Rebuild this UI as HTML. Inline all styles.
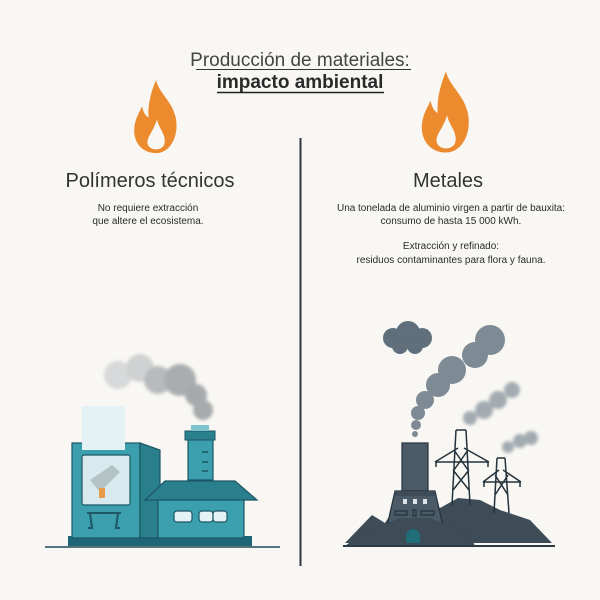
<!DOCTYPE html>
<html><head><meta charset="utf-8"><style>
html,body{margin:0;padding:0;background:#f8f7f3}
svg{display:block}
text{font-family:"Liberation Sans",sans-serif;fill:#2a2a2a}
</style></head><body>
<svg width="600" height="600" viewBox="0 0 600 600" xmlns="http://www.w3.org/2000/svg">
<rect width="600" height="600" fill="#f8f7f3"/>
<defs>
<filter id="b"><feGaussianBlur stdDeviation="1.5"/></filter>
<symbol id="flame" viewBox="0 0 50 80">
<path d="M25 0 C28 14 42 22 46 40 C50 60 40 78 25 78 C10 78 0 66 2 50 C3 40 8 34 10 28 C12 36 14 38 17 40 C16 26 20 12 25 0Z" fill="#ec8a2e"/>
<path d="M26 42 C28 52 36 58 34 68 C32 76 18 76 16 68 C15 60 22 56 26 42Z" fill="#f8f7f3"/>
</symbol>
</defs>
<text x="300" y="66" font-size="19" text-anchor="middle" fill="#444" style="fill:#444">Producción de materiales:</text>
<line x1="196" y1="69.5" x2="411" y2="69.5" stroke="#333" stroke-width="1"/>
<text x="300" y="88" font-size="19" font-weight="bold" text-anchor="middle">impacto ambiental</text>
<line x1="217" y1="92.5" x2="384" y2="92.5" stroke="#222" stroke-width="1.5"/>
<use href="#flame" x="132" y="80" width="48" height="75"/>
<use href="#flame" x="420" y="70" width="52" height="86"/>
<line x1="300.5" y1="138" x2="300.5" y2="566" stroke="#2e3440" stroke-width="2"/>
<text x="150" y="187" font-size="20" text-anchor="middle" style="fill:#333">Polímeros técnicos</text>
<text x="448" y="187" font-size="20" text-anchor="middle" style="fill:#333">Metales</text>
<g font-size="10" text-anchor="middle">
<text x="148" y="211">No requiere extracción</text>
<text x="148" y="224">que altere el ecosistema.</text>
<text x="451" y="211" textLength="228">Una tonelada de aluminio virgen a partir de bauxita:</text>
<text x="451" y="224">consumo de hasta 15 000 kWh.</text>
<text x="451" y="249">Extracción y refinado:</text>
<text x="451" y="263">residuos contaminantes para flora y fauna.</text>
</g>
<!-- left smoke -->
<g filter="url(#b)">
<circle cx="118" cy="375" r="14" fill="#d8d9da"/><circle cx="140" cy="368" r="14" fill="#cfd1d2"/>
<circle cx="158" cy="380" r="14" fill="#b8bbbd"/><circle cx="180" cy="380" r="16" fill="#a9adaf"/>
<circle cx="196" cy="395" r="11" fill="#a6aaac"/><circle cx="203" cy="410" r="10" fill="#a6aaac"/>
</g>
<!-- left factory -->
<line x1="45" y1="547" x2="280" y2="547" stroke="#1d4a57" stroke-width="1.5"/>
<rect x="68" y="536" width="184" height="10" fill="#1e6675"/>
<rect x="72" y="443" width="68" height="95" fill="#3b9fad" stroke="#1d5665" stroke-width="1.2"/>
<polygon points="140,443 160,450 160,538 140,538" fill="#2a7f8c" stroke="#1d5665" stroke-width="1.2"/>
<rect x="82" y="406" width="43" height="44" fill="#e4f2f6"/>
<rect x="82" y="455" width="48" height="50" rx="2" fill="#d9eaee" stroke="#1d5665" stroke-width="1.2"/>
<polygon points="90,480 112,465 120,472 100,492" fill="#b4c4c6"/>
<rect x="99" y="488" width="6" height="10" fill="#e79a4a"/>
<path d="M87 513 H121 M90 513 L92 528 H88 M118 513 L116 528 H120" stroke="#1d5665" stroke-width="2" fill="none"/>
<rect x="188" y="436" width="25" height="44" fill="#3b9fad" stroke="#1d5665" stroke-width="1.2"/>
<rect x="185" y="431" width="30" height="9" fill="#2a7f8c" stroke="#1d5665" stroke-width="1"/>
<rect x="191" y="425" width="18" height="6" fill="#7cc4cc"/>
<path d="M202 452h6M202 462h6M202 471h6" stroke="#1d5665" stroke-width="1.5"/>
<polygon points="165,481 235,481 257,500 145,500" fill="#2a7f8c" stroke="#1d5665" stroke-width="1.2"/>
<rect x="158" y="500" width="86" height="38" fill="#3b9fad" stroke="#1d5665" stroke-width="1.2"/>
<rect x="174" y="511" width="18" height="11" rx="3" fill="#e4f2f6" stroke="#1d5665" stroke-width="1.2"/>
<rect x="199" y="511" width="14" height="11" rx="3" fill="#e4f2f6" stroke="#1d5665" stroke-width="1.2"/>
<rect x="213" y="511" width="14" height="11" rx="3" fill="#e4f2f6" stroke="#1d5665" stroke-width="1.2"/>
<!-- right smoke -->
<g fill="#5f6f7b">
<circle cx="393" cy="338" r="10"/><circle cx="408" cy="333" r="12"/><circle cx="422" cy="338" r="10"/><circle cx="400" cy="346" r="8"/><circle cx="415" cy="346" r="8"/>
</g>
<g fill="#7f8b94">
<circle cx="490" cy="340" r="15"/><circle cx="475" cy="355" r="13"/><circle cx="452" cy="370" r="14"/><circle cx="438" cy="385" r="12"/>
<circle cx="425" cy="400" r="9"/><circle cx="418" cy="413" r="7"/><circle cx="416" cy="425" r="5"/><circle cx="415" cy="434" r="3"/>
</g>
<g fill="#a3abb1" filter="url(#b)">
<circle cx="470" cy="418" r="7"/><circle cx="484" cy="410" r="9"/><circle cx="498" cy="400" r="9"/><circle cx="512" cy="390" r="8"/>
<circle cx="508" cy="447" r="6"/><circle cx="520" cy="441" r="7"/><circle cx="531" cy="438" r="7"/>
</g>
<!-- hills -->
<polygon points="345,543 372,515 385,523 400,500 420,495 440,508 458,498 480,500 500,510 530,520 552,543" fill="#3d4c57"/>
<!-- pylons -->
<g stroke="#24323c" stroke-width="1.5" fill="none">
<path d="M456 430 L452 505 M466 430 L470 505 M456 430 H466 M454 450 L468 470 M468 450 L454 470 M453 470 L469 490 M469 470 L453 490 M435 462 H489 M435 462 L458 448 M489 462 L464 448 M436 462 v5 M488 462 v5"/>
<path d="M497 458 L494 513 M505 458 L509 513 M497 458 H505 M495 475 L508 495 M508 475 L495 495 M483 482 H521 M483 482 L499 470 M521 482 L503 470 M484 482 v5 M520 482 v5"/>
</g>
<!-- power station -->
<rect x="402" y="443" width="26" height="48" fill="#4a5a66" stroke="#24323c" stroke-width="1.2"/>
<polygon points="395,491 435,491 445,535 385,535" fill="#4a5a66" stroke="#24323c" stroke-width="1.2"/>
<rect x="395" y="491" width="40" height="5" fill="#3d4c57"/>
<path d="M403 499h4v5h-4zM413 499h4v5h-4zM423 499h4v5h-4z" fill="#dde3e6"/>
<path d="M395 511h12v4h-12zM413 510h3v6h-3zM421 511h13v4h-13z" fill="none" stroke="#1c2830" stroke-width="1"/>
<polygon points="360,535 400,518 430,518 470,535 475,546 345,546" fill="#3d4c57"/>
<path d="M406 543 v-7 a7 7 0 0 1 14 0 v7z" fill="#1f6e78"/>
<line x1="343" y1="546" x2="555" y2="546" stroke="#2c3a44" stroke-width="2"/>
</svg>
</body></html>
